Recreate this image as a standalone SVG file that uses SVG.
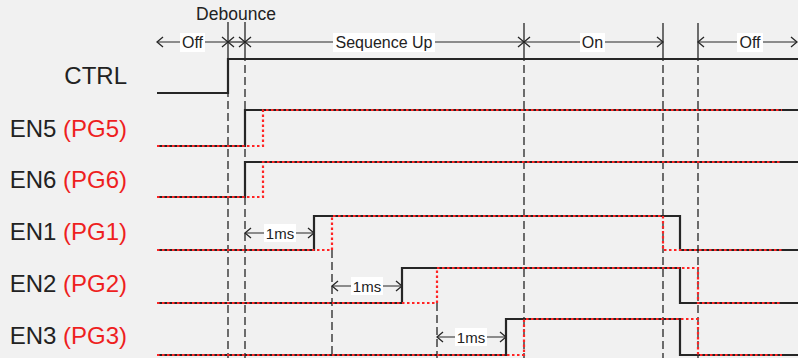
<svg xmlns="http://www.w3.org/2000/svg" width="798" height="358" viewBox="0 0 798 358">
<style>
.bg{fill:#f1f1f1}
.sig{fill:none;stroke:#262626;stroke-width:2.2;stroke-linejoin:miter}
.pg{fill:none;stroke:#ff2424;stroke-width:2.2;stroke-dasharray:2.5,2.5}
.dash{stroke:#262626;stroke-width:1.3;stroke-dasharray:8,4}
.tick{stroke:#262626;stroke-width:1.3}
.tl{stroke:#262626;stroke-width:1.2;fill:none;marker-start:url(#arr);marker-end:url(#arr)}
.lab{font-family:"Liberation Sans",Arial,sans-serif;font-size:24px;fill:#222}
.red{fill:#ee1f1f}
.sm{font-family:"Liberation Sans",Arial,sans-serif;font-size:16px;fill:#222;text-anchor:middle}
.ms{font-family:"Liberation Sans",Arial,sans-serif;font-size:15px;fill:#222;text-anchor:middle}
.box{fill:#ffffff}
</style>
<defs>
<marker id="arr" viewBox="0 0 8 12" refX="7" refY="6" markerWidth="8" markerHeight="12" markerUnits="userSpaceOnUse" orient="auto-start-reverse">
<path d="M1,1 L7,6 L1,11" fill="none" stroke="#262626" stroke-width="1.3"/>
</marker>
</defs>
<rect class="bg" x="0" y="0" width="798" height="358"/>

<g id="connectors">
<!-- vertical markers -->
<line class="tick" x1="228" y1="22" x2="228" y2="53"/>
<line class="tick" x1="245" y1="22" x2="245" y2="53"/>
<line class="tick" x1="524" y1="23" x2="524" y2="53"/>
<line class="tick" x1="663" y1="23" x2="663" y2="53"/>
<line class="tick" x1="698" y1="23" x2="698" y2="53"/>
<line class="dash" x1="228" y1="53" x2="228" y2="358"/>
<line class="dash" x1="245" y1="53" x2="245" y2="358"/>
<line class="dash" x1="524" y1="53" x2="524" y2="358"/>
<line class="dash" x1="663" y1="53" x2="663" y2="358"/>
<line class="dash" x1="698" y1="53" x2="698" y2="358"/>
<line class="dash" x1="332" y1="250" x2="332" y2="358"/>
<line class="dash" x1="437" y1="303" x2="437" y2="358"/>
<!-- top timeline -->
<line class="tl" x1="157" y1="42" x2="228" y2="42"/>
<line class="tl" x1="228" y1="42" x2="245" y2="42"/>
<line class="tl" x1="245" y1="42" x2="524" y2="42"/>
<line class="tl" x1="524" y1="42" x2="663" y2="42"/>
<line class="tl" x1="698" y1="42" x2="797" y2="42"/>
<text class="sm" x="236" y="20" style="font-size:17.5px">Debounce</text>
<rect class="box" x="180" y="33" width="25" height="19"/>
<text class="sm" x="192.5" y="47.5">Off</text>
<rect class="box" x="333" y="33" width="102" height="19"/>
<text class="sm" x="384" y="47.5">Sequence Up</text>
<rect class="box" x="580" y="33" width="25" height="19"/>
<text class="sm" x="592.5" y="47.5">On</text>
<rect class="box" x="737" y="33" width="26" height="19"/>
<text class="sm" x="750" y="47.5">Off</text>
<!-- 1ms delays -->
<line class="tl" x1="245" y1="233" x2="314" y2="233"/>
<rect class="box" x="264" y="224" width="32" height="18"/>
<text class="ms" x="280" y="238.5">1ms</text>
<line class="tl" x1="332" y1="286" x2="402" y2="286"/>
<rect class="box" x="351" y="277" width="32" height="18"/>
<text class="ms" x="367" y="291.5">1ms</text>
<line class="tl" x1="437" y1="337" x2="506" y2="337"/>
<rect class="box" x="455" y="328" width="32" height="18"/>
<text class="ms" x="471" y="342.5">1ms</text>
</g>

<g id="ctrl">
<text class="lab" x="127" y="84" text-anchor="end">CTRL</text>
<polyline class="sig" points="157,93 228,93 228,59 798,59"/>
</g>

<g id="en5">
<text class="lab" x="127" y="137" text-anchor="end">EN5 <tspan class="red">(PG5)</tspan></text>
<polyline class="sig" points="157,146 245,146 245,110 798,110"/>
<polyline class="pg" points="157,146 263,146 263,110 782,110"/>
</g>

<g id="en6">
<text class="lab" x="127" y="188" text-anchor="end">EN6 <tspan class="red">(PG6)</tspan></text>
<polyline class="sig" points="157,197 245,197 245,162 798,162"/>
<polyline class="pg" points="157,197 263,197 263,162 782,162"/>
</g>

<g id="en1">
<text class="lab" x="127" y="240" text-anchor="end">EN1 <tspan class="red">(PG1)</tspan></text>
<polyline class="sig" points="157,250 314,250 314,216 680,216 680,250 798,250"/>
<polyline class="pg" points="157,250 332,250 332,216 663,216 663,250 782,250"/>
</g>

<g id="en2">
<text class="lab" x="127" y="292" text-anchor="end">EN2 <tspan class="red">(PG2)</tspan></text>
<polyline class="sig" points="157,303 402,303 402,268 680,268 680,303 798,303"/>
<polyline class="pg" points="157,303 437,303 437,268 698,268 698,303 782,303"/>
</g>

<g id="en3">
<text class="lab" x="127" y="344" text-anchor="end">EN3 <tspan class="red">(PG3)</tspan></text>
<polyline class="sig" points="157,355 506,355 506,319 680,319 680,355 798,355"/>
<polyline class="pg" points="157,355 524,355 524,319 698,319 698,355 782,355"/>
</g>
</svg>
